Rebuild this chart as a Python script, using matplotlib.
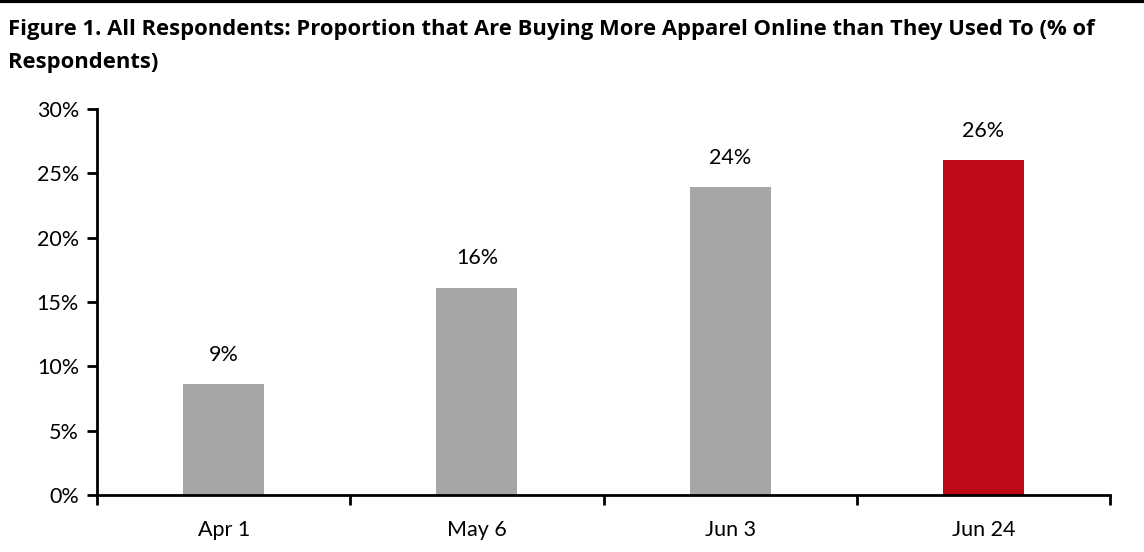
import matplotlib.pyplot as plt
from matplotlib.lines import Line2D

# Data
categories = ["Apr 1", "May 6", "Jun 3", "Jun 24"]
values = [8.6, 16.1, 23.9, 26.0]
value_labels = ["9%", "16%", "24%", "26%"]
bar_colors = ["#A6A6A6", "#A6A6A6", "#A6A6A6", "#C00A17"]
y_ticks = [0, 5, 10, 15, 20, 25, 30]

plt.rcParams["font.family"] = ["Lato", "DejaVu Sans"]

fig = plt.figure(figsize=(11.44, 5.52), dpi=100)
ax = fig.add_axes([0.0848, 0.1033, 0.8855, 0.6992])

x = list(range(len(categories)))
bars = ax.bar(x, values, width=0.32, color=bar_colors)

for rect, lab in zip(bars, value_labels):
    ax.annotate(lab, (rect.get_x() + rect.get_width() / 2, rect.get_height()),
                xytext=(0, 14), textcoords="offset points",
                ha="center", va="bottom", fontsize=15.5, color="black")

ax.set_xlim(-0.5, len(categories) - 0.5)
ax.set_ylim(0, 30)
ax.set_yticks(y_ticks)
ax.set_yticklabels([f"{t}%" for t in y_ticks], fontsize=15.5)

# category labels between boundary ticks
ax.set_xticks([i - 0.5 for i in range(len(categories) + 1)])
ax.set_xticklabels([])
ax.set_xticks(x, minor=True)
ax.set_xticklabels(categories, minor=True, fontsize=15.5)
ax.tick_params(axis="x", which="minor", length=0, pad=18)
ax.tick_params(axis="x", which="major", length=7, width=2, direction="out")
ax.tick_params(axis="y", length=7, width=2, direction="out", pad=6)

for side in ["top", "right"]:
    ax.spines[side].set_visible(False)
for side in ["left", "bottom"]:
    ax.spines[side].set_linewidth(2)

# black strip along the top edge
fig.add_artist(Line2D([0, 1], [0.998, 0.998], transform=fig.transFigure,
                      color="black", linewidth=3))

fig.text(0.007, 0.965,
         "Figure 1. All Respondents: Proportion that Are Buying More Apparel Online than They Used To (% of\nRespondents)",
         ha="left", va="top", fontsize=15.8, fontweight="bold", color="black",
         family=["Open Sans", "DejaVu Sans"], linespacing=1.7)

fig.savefig("out.png", dpi=100)
